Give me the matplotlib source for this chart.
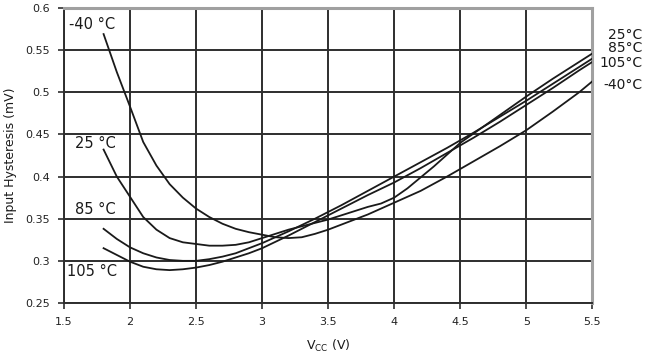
import matplotlib
matplotlib.use("Agg")
import matplotlib.pyplot as plt

# ---- data ----
x_m40 = [1.8, 1.9, 2.0, 2.1, 2.2, 2.3, 2.4, 2.5, 2.6, 2.7, 2.8, 2.9, 3.0, 3.1, 3.2, 3.3, 3.4, 3.5,
         3.6, 3.7, 3.8, 3.9, 4.0, 4.2, 4.4, 4.6, 4.8, 5.0, 5.2, 5.4, 5.5]
y_m40 = [0.569, 0.524, 0.483, 0.441, 0.413, 0.391, 0.375, 0.362, 0.352, 0.344, 0.338, 0.334, 0.331,
         0.328, 0.327, 0.328, 0.332, 0.337, 0.343, 0.349, 0.355, 0.362, 0.369, 0.383, 0.400, 0.418,
         0.436, 0.455, 0.477, 0.500, 0.513]

x_25 = [1.8, 1.9, 2.0, 2.1, 2.2, 2.3, 2.4, 2.5, 2.6, 2.7, 2.8, 2.9, 3.0, 3.1, 3.2, 3.3, 3.4, 3.5,
        3.6, 3.7, 3.8, 3.9, 4.0, 4.1, 4.2, 4.3, 4.4, 4.5, 4.6, 4.8, 5.0, 5.2, 5.4, 5.5]
y_25 = [0.432, 0.400, 0.376, 0.352, 0.337, 0.327, 0.322, 0.320, 0.318, 0.318, 0.319, 0.322, 0.327,
        0.332, 0.337, 0.341, 0.345, 0.349, 0.354, 0.359, 0.364, 0.368, 0.375, 0.386, 0.399, 0.412,
        0.426, 0.440, 0.451, 0.473, 0.495, 0.516, 0.536, 0.546]

x_85 = [1.8, 1.9, 2.0, 2.1, 2.2, 2.3, 2.4, 2.5, 2.6, 2.7, 2.8, 2.9, 3.0, 3.2, 3.4, 3.5, 3.6, 3.8,
        4.0, 4.2, 4.4, 4.5, 4.6, 4.8, 5.0, 5.2, 5.4, 5.5]
y_85 = [0.338, 0.326, 0.316, 0.309, 0.304, 0.301, 0.300, 0.300, 0.302, 0.305, 0.309, 0.315, 0.321,
        0.335, 0.350, 0.358, 0.366, 0.383, 0.400, 0.417, 0.434, 0.443, 0.452, 0.471, 0.490, 0.510,
        0.530, 0.540]

x_105 = [1.8, 1.9, 2.0, 2.1, 2.2, 2.3, 2.4, 2.5, 2.6, 2.7, 2.8, 2.9, 3.0, 3.2, 3.4, 3.5, 3.6, 3.8,
         4.0, 4.2, 4.4, 4.5, 4.6, 4.8, 5.0, 5.2, 5.4, 5.5]
y_105 = [0.315, 0.307, 0.299, 0.293, 0.290, 0.289, 0.290, 0.292, 0.295, 0.299, 0.304, 0.309, 0.315,
         0.330, 0.346, 0.354, 0.362, 0.378, 0.393, 0.410, 0.428, 0.437, 0.446, 0.465, 0.485, 0.505,
         0.526, 0.536]

x_ticks = [1.5, 2, 2.5, 3, 3.5, 4, 4.5, 5, 5.5]
x_ticklabels = ["1.5", "2", "2.5", "3", "3.5", "4", "4.5", "5", "5.5"]
y_ticks = [0.25, 0.3, 0.35, 0.4, 0.45, 0.5, 0.55, 0.6]
y_ticklabels = ["0.25", "0.3", "0.35", "0.4", "0.45", "0.5", "0.55", "0.6"]

left_labels = ["-40 °C", "25 °C", "85 °C", "105 °C"]
right_labels = ["25°C", "85°C", "105°C", "-40°C"]

# ---- figure ----
plt.rcParams['font.family'] = ['DejaVu Sans']
fig = plt.figure(figsize=(6.46, 3.62), dpi=100)
ax = fig.add_axes([0.099, 0.163, 0.818, 0.815])

ax.set_xlim(1.5, 5.5)
ax.set_ylim(0.25, 0.6)
ax.set_xticks(x_ticks)
ax.set_xticklabels(x_ticklabels)
ax.set_yticks(y_ticks)
ax.set_yticklabels(y_ticklabels)
ax.grid(True, color="#2e2e2e", linewidth=1.4, zorder=1)
ax.set_axisbelow(True)
ax.tick_params(axis='both', direction='out', length=4, width=1.2, color="#2e2e2e",
               labelsize=8, labelcolor="#222222", pad=6)

for s in ['left', 'bottom']:
    ax.spines[s].set_color("#2e2e2e")
    ax.spines[s].set_linewidth(1.4)
for s in ['top', 'right']:
    ax.spines[s].set_color("#a0a0a0")
    ax.spines[s].set_linewidth(2.2)

for xs, ys in [(x_m40, y_m40), (x_25, y_25), (x_85, y_85), (x_105, y_105)]:
    ax.plot(xs, ys, color="#1a1a1a", linewidth=1.3, zorder=3)

# left labels
left_pos = [(1.54, 0.580), (1.583, 0.4395), (1.583, 0.361), (1.52, 0.287)]
for lab, (lx, ly) in zip(left_labels, left_pos):
    ax.text(lx, ly, lab, fontsize=10.5, color="#1a1a1a", ha='left', va='center', zorder=4)

# right labels
right_y = [0.568, 0.5525, 0.535, 0.509]
for lab, ry in zip(right_labels, right_y):
    ax.text(5.88, ry, lab, fontsize=10, color="#1a1a1a", ha='right', va='center',
            clip_on=False)

ax.set_ylabel("Input Hysteresis (mV)", fontsize=9, color="#1a1a1a", labelpad=6)
ax.set_xlabel("V$_{\\mathregular{CC}}$ (V)", fontsize=9, color="#1a1a1a", labelpad=8)

fig.savefig("out.png", dpi=100)
